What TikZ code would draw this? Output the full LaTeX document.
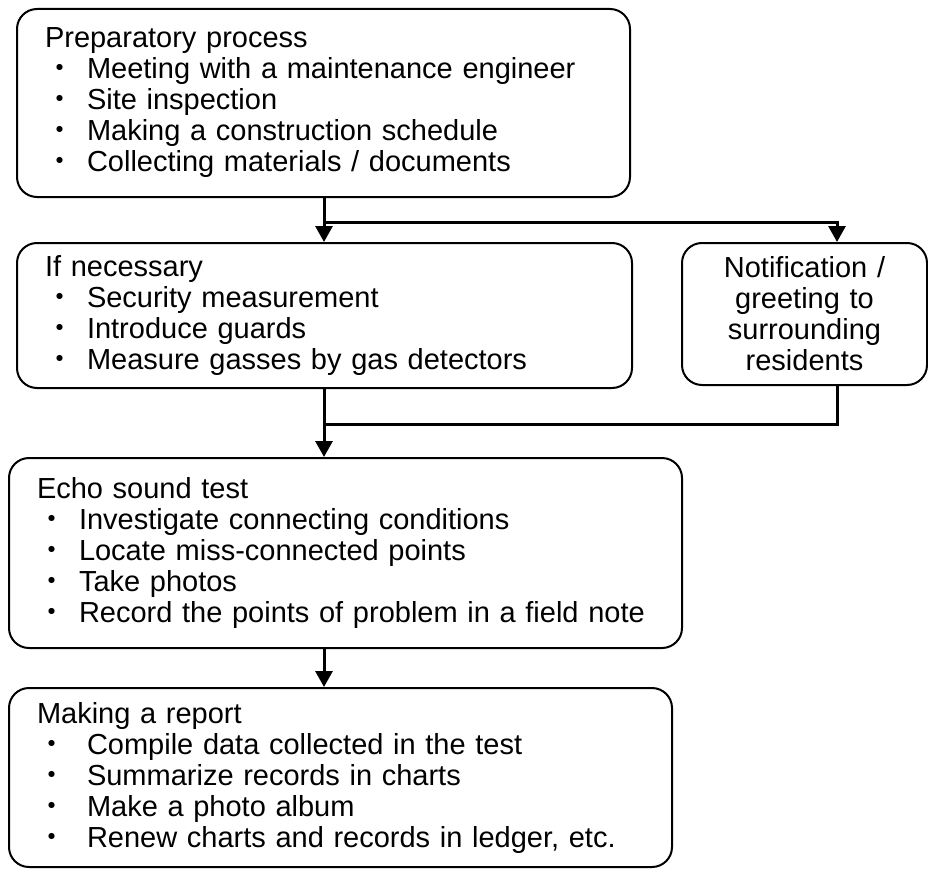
\documentclass[tikz,border=0pt]{standalone}
\usepackage{fontspec}
\setmainfont{Liberation Sans}
\newfontfamily\cjk{Noto Sans CJK JP}
\usetikzlibrary{arrows.meta}
\newcommand\dotitem{\makebox[42pt][l]{\cjk ・}}
\newcommand\dotitemw{\makebox[50pt][l]{\cjk ・}}
\tikzset{
  stepbox/.style={draw, line width=2pt, rounded corners=20pt, inner xsep=28pt, align=left,
    font=\fontsize{29pt}{31pt}\selectfont},
  flow/.style={line width=3pt, -{Triangle[width=17pt,length=16pt]}},
  link/.style={line width=3pt}
}
\begin{document}
\begin{tikzpicture}[x=1pt,y=-1pt]
\useasboundingbox (0,0) rectangle (928,872);
\node[stepbox, minimum width=613pt, minimum height=188pt, text width=557pt] (prep) at (323.5,103){Preparatory process\\
\dotitem Meeting with a maintenance engineer\\
\dotitem Site inspection\\
\dotitem Making a construction schedule\\
\dotitem Collecting materials / documents};
\node[stepbox, minimum width=615pt, minimum height=145pt, text width=559pt] (need) at (324.5,315.5){If necessary\\
\dotitem Security measurement\\
\dotitem Introduce guards\\
\dotitem Measure gasses by gas detectors};
\node[stepbox, align=center, inner xsep=4pt, minimum width=245pt, minimum height=142pt, text width=237pt] (notice) at (804.5,314){Notification /\\ greeting to\\ surrounding\\ residents};
\node[stepbox, minimum width=673pt, minimum height=190pt, text width=617pt] (echo) at (345.5,553){Echo sound test\\
\dotitem Investigate connecting conditions\\
\dotitem Locate miss-connected points\\
\dotitem Take photos\\
\dotitem Record the points of problem in a field note};
\node[stepbox, minimum width=663pt, minimum height=179pt, text width=607pt] (report) at (340.5,777.5){Making a report\\
\dotitemw Compile data collected in the test\\
\dotitemw Summarize records in charts\\
\dotitemw Make a photo album\\
\dotitemw Renew charts and records in ledger, etc.};
\coordinate (j1) at (324,222);
\coordinate (j2) at (837,222);
\coordinate (j3) at (324,424);
\draw[flow](prep.south -| j1) -- (need.north -| j1);
\draw[flow](j1) -- (j2) -- (notice.north -| j2);
\draw[flow](need.south -| j1) -- (echo.north -| j1);
\draw[link](notice.south -| j2) |- (j3);
\draw[flow](echo.south -| j1) -- (report.north -| j1);
\end{tikzpicture}
\end{document}
